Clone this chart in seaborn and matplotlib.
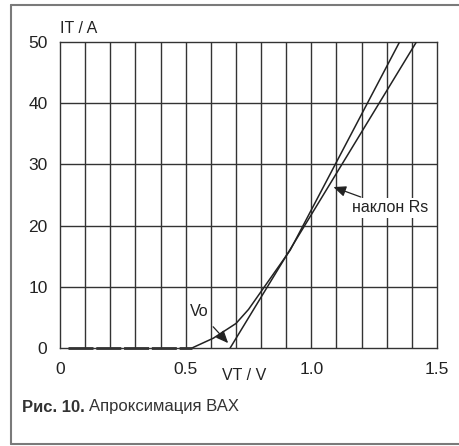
import matplotlib
matplotlib.use("Agg")
import matplotlib.pyplot as plt
import seaborn as sns
import pandas as pd
from matplotlib.lines import Line2D

# diode I-V curve
curve_v = [0.525, 0.61, 0.70, 0.75, 0.916, 1.351]
curve_i = [0.0, 1.6, 4.0, 6.3, 16.0, 50.0]

# piecewise-linear approximation: threshold Vo and slope
approx_v = [0.677, 1.418]
approx_i = [0.0, 50.0]

# dashed part along zero
zero_v = [0.03, 0.525]
zero_i = [0.0, 0.0]

x_ticks = [0, 0.5, 1.0, 1.5]
x_labels = ["0", "0.5", "1.0", "1.5"]
y_ticks = [0, 10, 20, 30, 40, 50]

sns.set_style("white")
plt.rcParams["font.family"] = ["Liberation Sans", "DejaVu Sans"]

ink = "#222222"
fig = plt.figure(figsize=(4.59, 4.46), dpi=100)
ax = fig.add_axes([60 / 459, 98 / 446, 377 / 459, 306 / 446])

# grid
for v in [i / 10 for i in range(1, 15)]:
    ax.axvline(v, color="#333333", lw=1.0, zorder=1)
for c in y_ticks[1:-1]:
    ax.axhline(c, color="#333333", lw=1.0, zorder=1)

curve = pd.DataFrame({"V": curve_v, "I": curve_i})
approx = pd.DataFrame({"V": approx_v, "I": approx_i})
sns.lineplot(data=curve, x="V", y="I", ax=ax, color=ink, lw=1.1, sort=False, zorder=3)
sns.lineplot(data=approx, x="V", y="I", ax=ax, color=ink, lw=1.1, zorder=3)
ax.plot(zero_v, zero_i, color="#333333", lw=2.0, dashes=(9, 1.0), zorder=3, clip_on=False)

ax.set_xlim(0, 1.5)
ax.set_ylim(0, 50)
ax.set_xticks(x_ticks)
ax.set_xticklabels(x_labels)
ax.set_yticks(y_ticks)
ax.tick_params(axis="both", direction="out", length=5, width=1.0, color="#333333",
               labelsize=12.5, labelcolor=ink, pad=4)
ax.tick_params(axis="x", pad=5)
for s in ax.spines.values():
    s.set_visible(True)
    s.set_color("#333333")
    s.set_linewidth(1.0)
ax.set_xlabel("")
ax.set_ylabel("")

ax.text(0.0, 51.0, "IT / A", fontsize=11.5, color=ink, ha="left", va="bottom")
ax.text(0.733, -4.5, "VT / V", fontsize=11.5, color=ink, ha="center", va="center")

head = "-|>,head_length=0.65,head_width=0.28"
ax.annotate("Vo", xy=(0.669, 0.8), xytext=(0.555, 5.9), fontsize=11.5, color=ink,
            ha="center", va="center",
            arrowprops=dict(arrowstyle=head, color=ink, lw=0.9, shrinkA=4, shrinkB=0))
ax.annotate("наклон Rs", xy=(1.088, 26.3), xytext=(1.315, 22.9), fontsize=11.5,
            color=ink, ha="center", va="center",
            bbox=dict(boxstyle="square,pad=0.15", fc="white", ec="none"),
            arrowprops=dict(arrowstyle=head, color=ink, lw=0.9, shrinkA=2, shrinkB=0),
            zorder=4)

# frame around figure
frame = dict(color="#7a7a7a", lw=1.5, transform=fig.transFigure)
fig.add_artist(Line2D([11 / 459, 1.0], [1 - 5 / 446, 1 - 5 / 446], **frame))
fig.add_artist(Line2D([11 / 459, 1.0], [1 - 444 / 446, 1 - 444 / 446], **frame))
fig.add_artist(Line2D([11 / 459, 11 / 459], [1 - 5 / 446, 1 - 444 / 446], **frame))

# caption
fig.canvas.draw()
t1 = fig.text(22 / 459, 1 - 407 / 446, "Рис. 10.", fontsize=12, fontweight="bold",
              color="#333333", ha="left", va="center")
r = fig.canvas.get_renderer()
bb = t1.get_window_extent(r)
fig.text((bb.x1 + 4) / 459, 1 - 407 / 446, "Апроксимация ВАХ", fontsize=12,
         color="#333333", ha="left", va="center")

fig.savefig("out.png", dpi=100)
